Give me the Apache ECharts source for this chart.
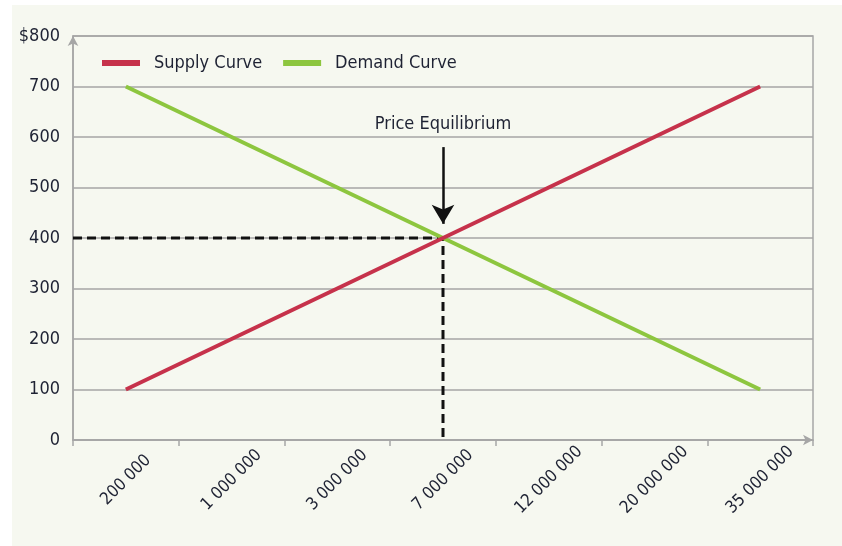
<!DOCTYPE html>
<html>
<head>
<meta charset="utf-8">
<script src="https://cdn.jsdelivr.net/npm/echarts@6/dist/echarts.min.js"></script>
<style>
  html, body { margin: 0; padding: 0; background: #ffffff; overflow: hidden; }
  #chart { position: absolute; left: 12px; top: 5px; width: 830px; height: 541px; }
</style>
</head>
<body>
<div id="chart"></div>
<script>
const categories = ['200 000', '1 000 000', '3 000 000', '7 000 000', '12 000 000', '20 000 000', '35 000 000']
const supply = [100, 200, 300, 400, 500, 600, 700]
const demand = [700, 600, 500, 400, 300, 200, 100]
// equilibrium point: category index and price
const eqIndex = 3
const eqPrice = 400
const arrowFrom = 580
const arrowTo = 428

const font = 'DejaVu Sans Condensed'
const textColor = '#1e2233'
const gray = '#a6a6a6'
const chart = echarts.init(document.getElementById('chart'))

chart.setOption({
  backgroundColor: '#f6f8f0',
  textStyle: { fontFamily: font },
  animation: false,
  grid: {
    left: 61, right: 29, top: 31, bottom: 106,
    show: true, borderColor: gray, borderWidth: 1.5
  },
  legend: {
    left: 85, top: 44,
    itemWidth: 38, itemHeight: 6, itemGap: 21,
    icon: 'rect',
    textStyle: { fontFamily: font, fontSize: 18, color: textColor, padding: [0, 0, 0, 9] },
    data: ['Supply Curve', 'Demand Curve']
  },
  xAxis: [{
    type: 'category',
    data: categories,
    boundaryGap: true,
    axisLine: { lineStyle: { color: gray, width: 1.5 }, symbol: ['none', 'arrow'], symbolSize: [8, 10] },
    axisTick: { show: true, length: 6, lineStyle: { color: gray, width: 1.5 } },
    axisLabel: {
      rotate: 45, align: 'center', verticalAlign: 'middle', margin: 40,
      fontFamily: font, fontSize: 17, color: textColor
    },
    splitLine: { show: false }
  }, {
    // hidden value axis so the dashed guides can start at the y axis
    type: 'value', min: -0.5, max: categories.length - 0.5, show: false
  }],
  yAxis: {
    type: 'value', min: 0, max: 800, interval: 100,
    axisLine: {
      show: true, onZero: false,
      lineStyle: { color: gray, width: 1.5 }, symbol: ['none', 'arrow'], symbolSize: [8, 10]
    },
    axisTick: { show: false },
    axisLabel: {
      margin: 13, fontFamily: font, fontSize: 18, color: textColor,
      formatter: v => v === 800 ? '$800' : String(v)
    },
    splitLine: { lineStyle: { color: gray, width: 1.5 } }
  },
  series: [{
    name: 'Supply Curve', type: 'line', data: supply,
    symbol: 'none', color: '#c6324b', lineStyle: { width: 4 }, z: 3
  }, {
    name: 'Demand Curve', type: 'line', data: demand,
    symbol: 'none', color: '#8dc63f', lineStyle: { width: 4 }, z: 2
  }, {
    name: 'eq', type: 'line', xAxisIndex: 1,
    data: [[-0.5, eqPrice], [eqIndex, eqPrice], [eqIndex, 0]],
    symbol: 'none', color: '#111',
    lineStyle: { width: 3, type: [9, 5] }, z: 1,
    markLine: {
      silent: true, symbol: ['none', 'arrow'], symbolSize: [17, 19],
      lineStyle: { color: '#111', width: 2.5, type: 'solid' },
      label: {
        show: true, position: 'start', distance: 14, formatter: 'Price Equilibrium',
        fontFamily: font, fontSize: 18, color: textColor
      },
      data: [[{ coord: [eqIndex, arrowFrom] }, { coord: [eqIndex, arrowTo] }]]
    }
  }]
})
</script>
</body>
</html>
